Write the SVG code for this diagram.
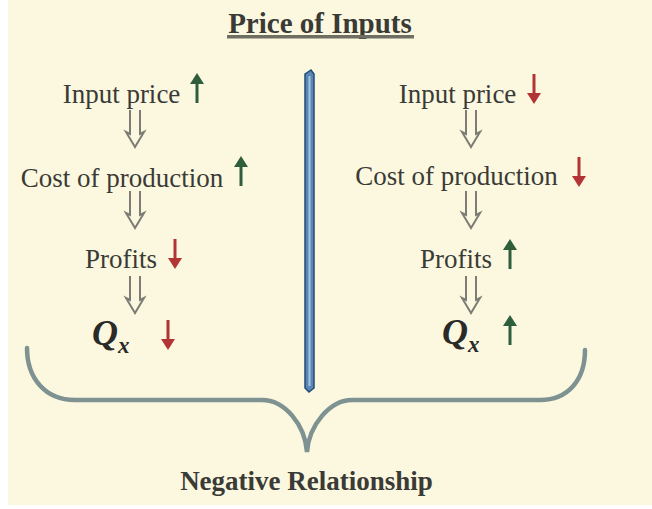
<svg xmlns="http://www.w3.org/2000/svg" width="652" height="509" viewBox="0 0 652 509">
<defs>
<style>
.t{font-family:"Liberation Serif","Times New Roman",serif;font-size:27px;fill:#3a3a36;text-anchor:middle}
.b{font-weight:bold}
.q{font-family:"Liberation Serif","Times New Roman",serif;font-weight:bold;font-style:italic;fill:#2a2a28}
.dbl{fill:none;stroke:#7c7c74;stroke-width:2;stroke-linejoin:miter}
.up{stroke:#2f5e3c;fill:#2f5e3c}
.dn{stroke:#b23434;fill:#b23434}
.sh{stroke-width:3;fill:none}
</style>
<g id="upArrow"><line class="sh" x1="0" y1="8" x2="0" y2="30"/><path d="M-7,11 L0,0 L7,11 Z" stroke="none"/></g>
<g id="dnArrow"><line class="sh" x1="0" y1="0" x2="0" y2="22"/><path d="M-7,19 L0,30 L7,19 Z" stroke="none"/></g>
<path id="dbl" d="M-5,0 V24 L-9,22 L0,37 L9,22 L5,24 V0"/>
</defs>
<rect x="0" y="0" width="652" height="509" fill="#ffffff"/>
<rect x="8" y="0" width="644" height="505" fill="#fbf8df"/>

<g id="title">
<text class="t b" x="320" y="33" style="font-size:29px">Price of Inputs</text>
<rect x="227" y="35" width="187" height="3.5" fill="#6e6e62"/>
</g>

<g id="divider">
<path d="M305,74 L311,70 L314,74 L314,388 L309,392 L305,388 Z" fill="#5b86b4" stroke="#1f4c7a" stroke-width="1.5"/>
<line x1="309.5" y1="76" x2="309.5" y2="386" stroke="#a9c4e0" stroke-width="2"/>
</g>

<g id="left-input-price">
<text class="t" x="121.5" y="103">Input price</text>
<use href="#upArrow" x="197" y="73" class="up"/>
</g>
<g id="left-cost">
<text class="t" x="122" y="187">Cost of production</text>
<use href="#upArrow" x="241" y="156" class="up"/>
</g>
<g id="left-profits">
<text class="t" x="121" y="268">Profits</text>
<use href="#dnArrow" x="175" y="239" class="dn"/>
</g>
<g id="left-qx">
<text class="q" x="92" y="345" style="font-size:36px">Q<tspan dy="8" style="font-size:23px">x</tspan></text>
<use href="#dnArrow" x="168" y="320" class="dn"/>
</g>

<g id="right-input-price">
<text class="t" x="457.5" y="103">Input price</text>
<use href="#dnArrow" x="534" y="74" class="dn"/>
</g>
<g id="right-cost">
<text class="t" x="456.5" y="185">Cost of production</text>
<use href="#dnArrow" x="579" y="157" class="dn"/>
</g>
<g id="right-profits">
<text class="t" x="456" y="268">Profits</text>
<use href="#upArrow" x="510" y="239" class="up"/>
</g>
<g id="right-qx">
<text class="q" x="442" y="344" style="font-size:36px">Q<tspan dy="8" style="font-size:23px">x</tspan></text>
<use href="#upArrow" x="510" y="315" class="up"/>
</g>

<g id="connectors">
<use href="#dbl" class="dbl" x="135" y="110"/>
<use href="#dbl" class="dbl" x="135" y="191"/>
<use href="#dbl" class="dbl" x="135" y="276"/>
<use href="#dbl" class="dbl" x="471" y="110"/>
<use href="#dbl" class="dbl" x="471" y="191"/>
<use href="#dbl" class="dbl" x="471" y="276"/>
<path d="M27,348 C27,378 45,400 75,400 L262,400 C285,400 305,425 307,452 C309,425 330,400 352,400 L540,400 C568,400 585,380 585,350" fill="none" stroke="#7e9292" stroke-width="4.5" stroke-linecap="round"/>
</g>

<g id="result">
<text class="t b" x="306.5" y="490">Negative Relationship</text>
</g>
</svg>
